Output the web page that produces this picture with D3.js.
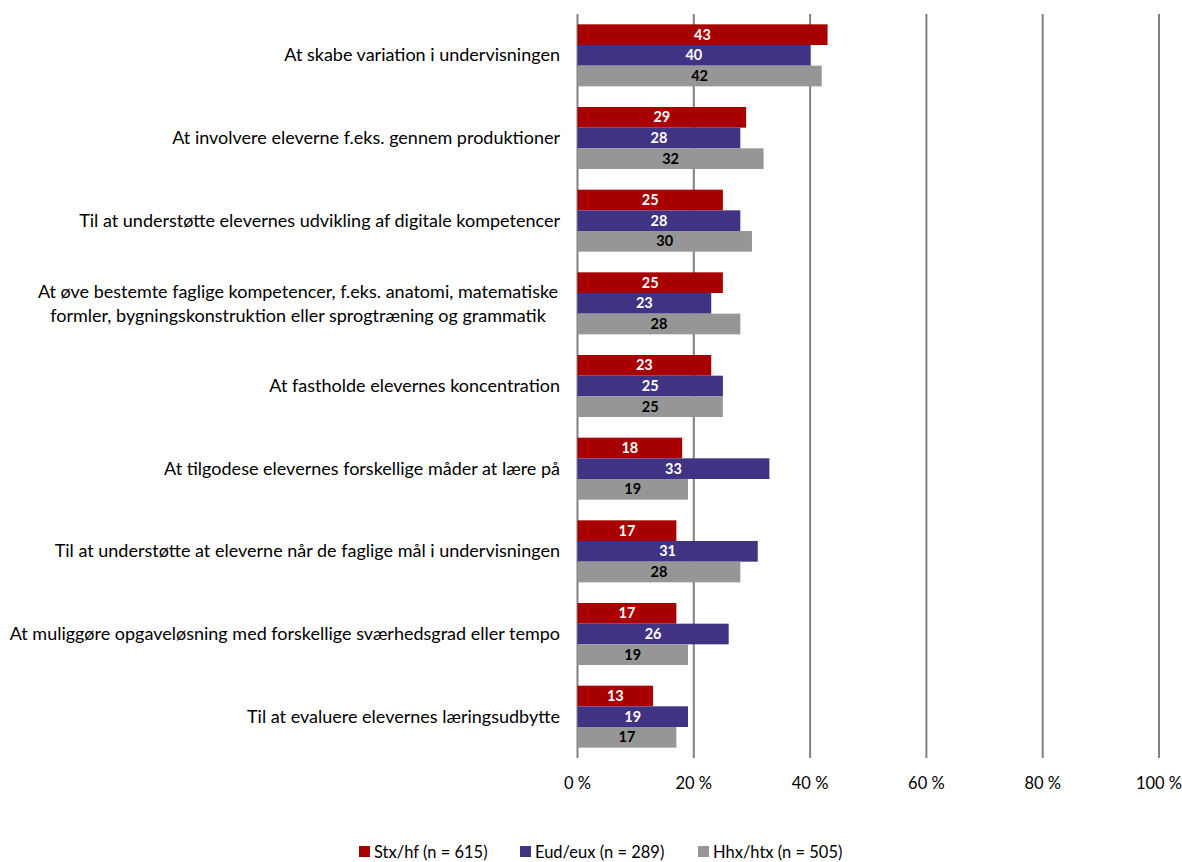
<!DOCTYPE html>
<html>
<head>
<meta charset="utf-8">
<script src="https://cdn.jsdelivr.net/npm/d3@7"></script>
<style>
  body { margin: 0; background: #fff; }
  text { font-family: Lato, "Open Sans", sans-serif; }
</style>
</head>
<body>
<div class="chart"></div>
<script>
var categories = [
    ["At skabe variation i undervisningen"],
    ["At involvere eleverne f.eks. gennem produktioner"],
    ["Til at understøtte elevernes udvikling af digitale kompetencer"],
    ["At øve bestemte faglige kompetencer, f.eks. anatomi, matematiske", "formler, bygningskonstruktion eller sprogtræning og grammatik"],
    ["At fastholde elevernes koncentration"],
    ["At tilgodese elevernes forskellige måder at lære på"],
    ["Til at understøtte at eleverne når de faglige mål i undervisningen"],
    ["At muliggøre opgaveløsning med forskellige sværhedsgrad eller tempo"],
    ["Til at evaluere elevernes læringsudbytte"]
];
var seriesNames = ["Stx/hf (n = 615)", "Eud/eux (n = 289)", "Hhx/htx (n = 505)"];
var stx = [43, 29, 25, 25, 23, 18, 17, 17, 13];
var eud = [40, 28, 28, 23, 25, 33, 31, 26, 19];
var hhx = [42, 32, 30, 28, 25, 19, 28, 19, 17];
var ticks = [0, 20, 40, 60, 80, 100];
var colors = ["#A80000", "#413383", "#969696"];
var labelColors = ["#fff", "#fff", "#000"];

var series = [stx, eud, hhx];

var svg = d3.select(".chart").append("svg")
    .attr("width", 1182)
    .attr("height", 862);

var x = d3.scaleLinear().domain([0, 100]).range([577.5, 1159]);
var y = d3.scaleBand().domain(d3.range(categories.length)).range([14, 758]).paddingInner(0.25).paddingOuter(0.125);
var yInner = d3.scaleBand().domain([0, 1, 2]).range([0, y.bandwidth()]);

// gridlines
svg.append("g").selectAll("line")
    .data(ticks)
    .enter().append("line")
        .attr("x1", d => x(d)).attr("x2", d => x(d))
        .attr("y1", 14).attr("y2", 758)
        .style("stroke", "#808080")
        .style("stroke-width", 2);

// tick labels
svg.append("g").selectAll("text")
    .data(ticks)
    .enter().append("text")
        .attr("x", d => x(d))
        .attr("y", 789)
        .attr("text-anchor", "middle")
        .style("font-size", "16.5px")
        .style("fill", "#000")
        .text(d => d + " %");

var groups = svg.append("g").selectAll("g")
    .data(categories)
    .enter().append("g")
        .attr("transform", (d, i) => "translate(0," + y(i) + ")");

series.forEach(function(s, k) {
    groups.append("rect")
        .attr("x", x(0))
        .attr("y", yInner(k))
        .attr("width", (d, i) => x(s[i]) - x(0))
        .attr("height", yInner.bandwidth())
        .style("fill", colors[k]);
    groups.append("text")
        .attr("x", (d, i) => (x(0) + x(s[i])) / 2)
        .attr("y", yInner(k) + yInner.bandwidth() / 2 + 5)
        .attr("text-anchor", "middle")
        .style("font-size", "14.5px")
        .style("font-weight", "bold")
        .style("fill", labelColors[k])
        .text((d, i) => s[i]);
});

// category labels
groups.each(function(d) {
    var g = d3.select(this);
    var mid = y.bandwidth() / 2;
    if (d.length == 1) {
        g.append("text")
            .attr("x", 560)
            .attr("y", mid + 6)
            .attr("text-anchor", "end")
            .style("font-size", "18px")
            .style("fill", "#000")
            .text(d[0]);
    } else {
        var t = g.append("text")
            .attr("text-anchor", "middle")
            .style("font-size", "18px")
            .style("fill", "#000");
        d.forEach(function(line, j) {
            t.append("tspan")
                .attr("x", 298)
                .attr("y", mid - 5 + j * 24)
                .text(line);
        });
    }
});

// legend
var legendX = [359, 520, 698];
var legend = svg.append("g").selectAll("g")
    .data(seriesNames)
    .enter().append("g")
        .attr("transform", (d, i) => "translate(" + legendX[i] + ",846)");
legend.append("rect")
    .attr("width", 11).attr("height", 11)
    .style("fill", (d, i) => colors[i]);
legend.append("text")
    .attr("x", 15)
    .attr("y", 11.5)
    .style("font-size", "16.5px")
    .style("fill", "#000")
    .text(d => d);
</script>
</body>
</html>
